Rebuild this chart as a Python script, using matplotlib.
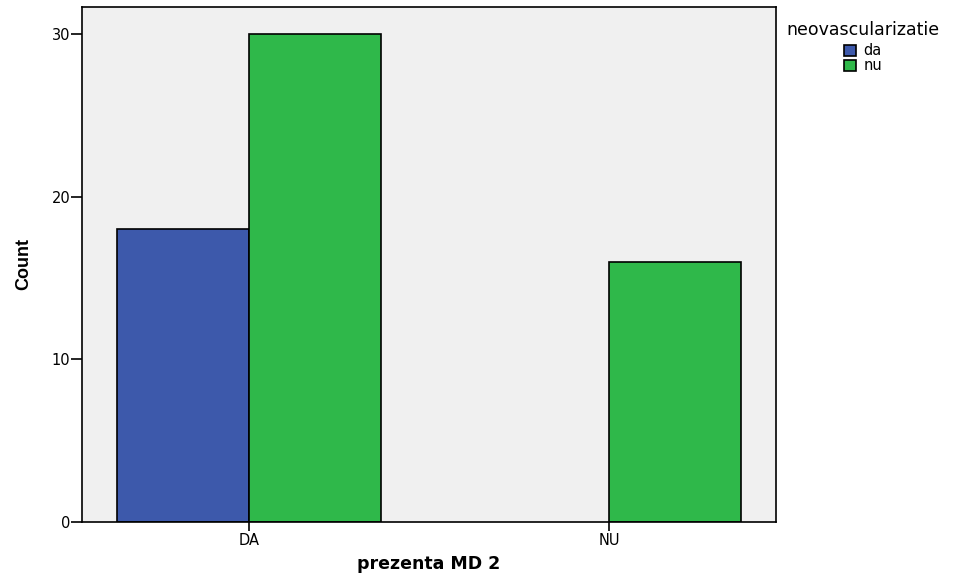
import matplotlib
matplotlib.use("Agg")
import matplotlib.pyplot as plt
import numpy as np

plt.rcParams['font.family'] = ['DejaVu Sans']

categories = ["DA", "NU"]
series_names = ["da", "nu"]
da_counts = [18, 0]
nu_counts = [30, 16]
yticks = [0, 10, 20, 30]
colors = ["#3d59ab", "#2fb84a"]

fig = plt.figure(figsize=(9.57, 5.77), dpi=100)
ax = fig.add_axes([82/957, 55/577, (776-82)/957, (522-7)/577])
ax.set_facecolor("#f0f0f0")

x = np.arange(len(categories))
w = 0.367
def edge_widths(vals):
    return [1.2 if v > 0 else 0 for v in vals]
b1 = ax.bar(x - w/2, da_counts, width=w, color=colors[0], edgecolor="black",
            linewidth=edge_widths(da_counts), label=series_names[0])
b2 = ax.bar(x + w/2, nu_counts, width=w, color=colors[1], edgecolor="black",
            linewidth=edge_widths(nu_counts), label=series_names[1])

ax.set_xlim(-0.464, 1.464)
ax.set_ylim(0, 31.65)
ax.set_xticks(x)
ax.set_xticklabels(categories, fontsize=10.5)
ax.set_yticks(yticks)
ax.set_yticklabels([str(v) for v in yticks], fontsize=10.5)
ax.tick_params(axis='y', direction='out', length=8, width=1.2, pad=0.5)
ax.tick_params(axis='x', direction='out', length=6.5, width=1.2, pad=1.5)
for s in ax.spines.values():
    s.set_linewidth(1.2)

ax.set_xlabel("prezenta MD 2", fontsize=12.5, fontweight='bold', labelpad=5)
ax.set_ylabel("Count", fontsize=13, fontweight='bold', labelpad=14,
              family=['Liberation Sans', 'DejaVu Sans'])

leg = fig.legend(handles=[b1, b2], labels=series_names, title="neovascularizatie",
                 loc='upper left', bbox_to_anchor=(776/957, 1 - 11/577), frameon=False,
                 fontsize=10.5, title_fontsize=12.5, handlelength=0.85, handleheight=0.75,
                 handletextpad=0.5, labelspacing=0.0, borderpad=0.2)
leg._legend_box.align = "center"
leg._legend_box.sep = 3
for h in leg.legend_handles:
    h.set_linewidth(1.2)

fig.savefig("out.png", dpi=100)
